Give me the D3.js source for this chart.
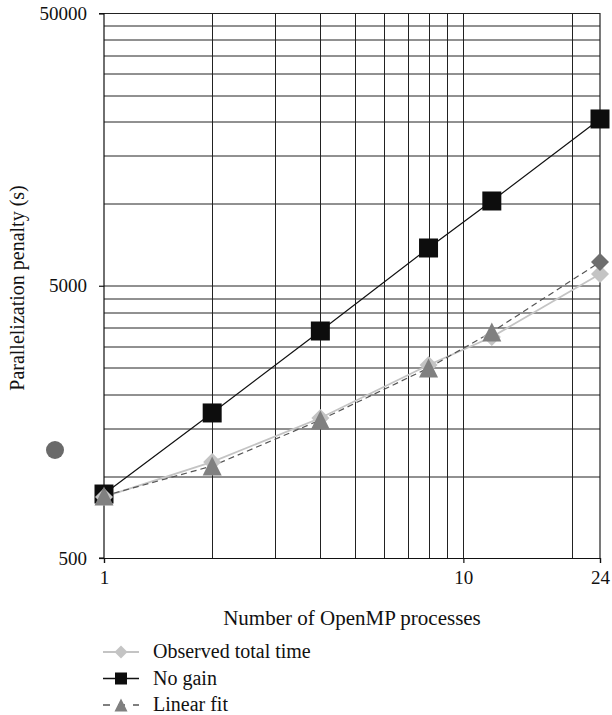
<!DOCTYPE html>
<html>
<head>
<meta charset="utf-8">
<script src="https://cdn.jsdelivr.net/npm/d3@7"></script>
<style>
  body { margin: 0; background: #fff; }
  text { font-family: "Liberation Serif", "DejaVu Serif", serif; }
</style>
</head>
<body>
<div class="canvas"></div>
<script>
// data
const processes = [1, 2, 4, 8, 12, 24];
const observed = [838, 1127, 1634, 2558, 3241, 5525];
const noGain = [859, 1705, 3410, 6881, 10240, 20490];
const linearFit = [845, 1089, 1607, 2494, 3381, 6112];
const linearFitMarkers = ['triangle', 'triangle', 'triangle', 'triangle', 'triangle', 'diamond'];

const xTicks = [1, 10, 24];
const yTicks = [500, 5000, 50000];
const xGrid = [2, 3, 4, 5, 6, 7, 8, 9, 10, 20];
const yGrid = [1000, 1500, 2000, 2500, 3000, 3500, 4000, 4500, 5000,
  10000, 15000, 20000, 25000, 30000, 35000, 40000, 45000];

const legendLabels = ['Observed total time', 'No gain', 'Linear fit'];

const svg = d3.select('.canvas')
  .append('svg')
  .attr('width', 612)
  .attr('height', 715);

// dimensions
const margin = { top: 13.5, left: 104 };
const graphWidth = 496;
const graphHeight = 544.5;

const graph = svg.append('g')
  .attr('transform', `translate(${margin.left}, ${margin.top})`);

// scales
const x = d3.scaleLog().domain([1, 24]).range([0, graphWidth]);
const y = d3.scaleLog().domain([500, 50000]).range([graphHeight, 0]);

// gridlines
graph.append('g').selectAll('line')
  .data(xGrid)
  .enter().append('line')
  .attr('x1', d => Math.round(x(d)) + 0.5)
  .attr('x2', d => Math.round(x(d)) + 0.5)
  .attr('y1', 0)
  .attr('y2', graphHeight)
  .attr('stroke', '#222')
  .attr('stroke-width', 1);

graph.append('g').selectAll('line')
  .data(yGrid)
  .enter().append('line')
  .attr('x1', 0)
  .attr('x2', graphWidth)
  .attr('y1', d => Math.round(y(d)) + 0.5)
  .attr('y2', d => Math.round(y(d)) + 0.5)
  .attr('stroke', '#222')
  .attr('stroke-width', 1);

// frame (top + right)
graph.append('path')
  .attr('d', `M0,0H${graphWidth}V${graphHeight}`)
  .attr('fill', 'none')
  .attr('stroke', '#222')
  .attr('stroke-width', 1.2);

// axes
const xAxis = d3.axisBottom(x)
  .tickValues(xTicks)
  .tickFormat(d3.format('d'))
  .tickSize(5)
  .tickPadding(8);
const yAxis = d3.axisLeft(y)
  .tickValues(yTicks)
  .tickFormat(d3.format('d'))
  .tickSize(5)
  .tickPadding(12);

const xAxisGroup = graph.append('g')
  .attr('transform', `translate(0, ${graphHeight})`)
  .call(xAxis);
const yAxisGroup = graph.append('g').call(yAxis);

[xAxisGroup, yAxisGroup].forEach(g => {
  g.selectAll('path, line').attr('stroke', '#111').attr('stroke-width', 1.2);
  g.selectAll('text')
    .attr('fill', '#111')
    .style('font-size', '19px')
    .style('font-family', '"Liberation Serif", serif');
});
yAxisGroup.select('.domain').attr('d', `M-5,0H0V${graphHeight}H-5`);

// axis titles
svg.append('text')
  .attr('x', 352)
  .attr('y', 625)
  .attr('text-anchor', 'middle')
  .attr('fill', '#111')
  .style('font-size', '21px')
  .text('Number of OpenMP processes');

svg.append('text')
  .attr('transform', 'translate(24, 288) rotate(-90)')
  .attr('text-anchor', 'middle')
  .attr('fill', '#111')
  .style('font-size', '20px')
  .text('Parallelization penalty (s)');

// stray marker left of the axis
svg.append('circle')
  .attr('cx', 55)
  .attr('cy', 450)
  .attr('r', 9)
  .attr('fill', '#6a6a6a');

// series
const series = [
  { name: 'noGain', values: noGain, lineColor: '#111', width: 1.2, dash: null,
    markers: processes.map(() => 'square'), markerColor: () => '#0d0d0d' },
  { name: 'observed', values: observed, lineColor: '#c4c4c4', width: 1.8, dash: null,
    markers: processes.map(() => 'diamond'), markerColor: () => '#c4c4c4' },
  { name: 'linearFit', values: linearFit, lineColor: '#555', width: 1.2, dash: '6,4',
    markers: linearFitMarkers, markerColor: m => m === 'diamond' ? '#6e6e6e' : '#808080' }
];

const symbolPath = (shape, size) => {
  if (shape === 'square') return `M${-size / 2},${-size / 2}h${size}v${size}h${-size}Z`;
  if (shape === 'diamond') return `M0,${-size / 2}L${size / 2},0L0,${size / 2}L${-size / 2},0Z`;
  return `M0,${-size / 2}L${size / 2},${size / 2}L${-size / 2},${size / 2}Z`;
};
const markerSize = { square: 19, diamond: 18, triangle: 19 };

const line = d3.line()
  .x(d => x(d.x))
  .y(d => y(d.y));

series.forEach(s => {
  const pts = processes.map((p, i) => ({ x: p, y: s.values[i], m: s.markers[i] }));
  graph.append('path')
    .datum(pts)
    .attr('d', line)
    .attr('fill', 'none')
    .attr('stroke', s.lineColor)
    .attr('stroke-width', s.width)
    .attr('stroke-dasharray', s.dash);
});

series.forEach(s => {
  const pts = processes.map((p, i) => ({ x: p, y: s.values[i], m: s.markers[i] }));
  graph.append('g').selectAll('path')
    .data(pts)
    .enter().append('path')
    .attr('transform', d => `translate(${x(d.x)}, ${y(d.y)})`)
    .attr('d', d => symbolPath(d.m, markerSize[d.m]))
    .attr('fill', d => s.markerColor(d.m));
});

// legend
const legendOrder = [series[1], series[0], series[2]];
const legend = svg.append('g').attr('transform', 'translate(103, 652)');
legendOrder.forEach((s, i) => {
  const row = legend.append('g').attr('transform', `translate(0, ${i * 26.5})`);
  row.append('line')
    .attr('x1', 0).attr('x2', 36)
    .attr('y1', 0).attr('y2', 0)
    .attr('stroke', s.lineColor)
    .attr('stroke-width', s.width + 0.4)
    .attr('stroke-dasharray', s.dash ? '7,8' : null);
  const shape = s.markers[0];
  row.append('path')
    .attr('transform', 'translate(18, 0)')
    .attr('d', symbolPath(shape, shape === 'square' ? 12 : 13))
    .attr('fill', s.markerColor(shape));
  row.append('text')
    .attr('x', 50)
    .attr('y', 6)
    .attr('fill', '#111')
    .style('font-size', '20px')
    .text(legendLabels[i]);
});
</script>
</body>
</html>
